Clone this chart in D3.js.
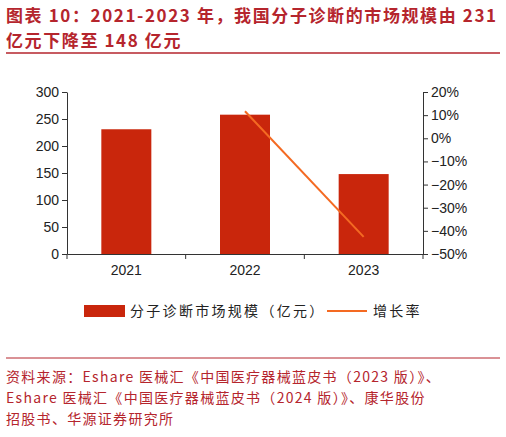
<!DOCTYPE html>
<html><head><meta charset="utf-8">
<script src="https://cdn.jsdelivr.net/npm/d3@7"></script>
<style>body{margin:0;background:#fff;font-family:"Noto Sans CJK SC",sans-serif}</style>
</head><body><svg id="c" width="506" height="437"></svg>
<script>
const years=["2021","2022","2023"];
const market=[231,258,148];
const growthYears=["2022","2023"];
const growth=[11.7,-42.6];
const leftTicks=[0,50,100,150,200,250,300];
const rightTicks=[-50,-40,-30,-20,-10,0,10,20];
const svg=d3.select("#c");
const red="#b5252d";
svg.append("text").attr("x",6).attr("y",22).attr("fill",red).attr("font-size",17).attr("font-weight","bold").attr("letter-spacing",1.6).text("图表 10：2021-2023 年，我国分子诊断的市场规模由 231");
svg.append("text").attr("x",6).attr("y",47).attr("fill",red).attr("font-size",17).attr("font-weight","bold").attr("letter-spacing",1.6).text("亿元下降至 148 亿元");
svg.append("line").attr("x1",6).attr("x2",500).attr("y1",53).attr("y2",53).attr("stroke",red).attr("stroke-width",1.5);
const x=d3.scaleBand().domain(years).range([67,423]);
const y=d3.scaleLinear().domain([0,300]).range([254,92]);
const y2=d3.scaleLinear().domain([-50,20]).range([254,92]);
const g=svg.append("g");
g.selectAll("rect").data(market).join("rect").attr("x",(d,i)=>x(years[i])+x.bandwidth()/2-25).attr("width",50).attr("y",d=>y(d)).attr("height",d=>254-y(d)).attr("fill","#c9260c");
const line=d3.line().x((d,i)=>x(growthYears[i])+x.bandwidth()/2).y(d=>y2(d));
g.append("path").datum(growth).attr("d",line).attr("fill","none").attr("stroke","#f46a22").attr("stroke-width",2);
const fs="Liberation Sans, Arial, sans-serif";
const la=svg.append("g").attr("transform","translate(67,0)").call(d3.axisLeft(y).tickValues(leftTicks).tickSize(5).tickSizeOuter(0));
const ra=svg.append("g").attr("transform","translate(423,0)").call(d3.axisRight(y2).tickValues(rightTicks).tickSize(5).tickSizeOuter(0).tickFormat(d=>d===0?"0%":(d<0?"−":"")+Math.abs(d)+"%"));
const ba=svg.append("g").attr("transform","translate(0,254)").call(d3.axisBottom(x).tickSize(0));
ba.selectAll("text").attr("dy","1.3em");
svg.append("g").selectAll("line").data([67,x("2022"),x("2023"),423]).join("line").attr("x1",d=>d).attr("x2",d=>d).attr("y1",254).attr("y2",259).attr("stroke","#333");
[la,ra,ba].forEach(a=>{a.selectAll("text").attr("font-size",14).attr("font-family",fs).attr("fill","#222");a.selectAll("path,line").attr("stroke","#333");});
const lg=svg.append("g");
lg.append("rect").attr("x",84).attr("y",305).attr("width",41).attr("height",12).attr("fill","#c9260c");
lg.append("text").attr("x",130).attr("y",316).attr("font-size",14).attr("fill","#222").attr("letter-spacing",2.3).text("分子诊断市场规模（亿元）");
lg.append("line").attr("x1",327).attr("x2",367).attr("y1",311).attr("y2",311).attr("stroke","#f46a22").attr("stroke-width",2);
lg.append("text").attr("x",373).attr("y",316).attr("font-size",14).attr("fill","#222").attr("letter-spacing",2.3).text("增长率");
svg.append("line").attr("x1",6).attr("x2",500).attr("y1",358).attr("y2",358).attr("stroke",red).attr("stroke-width",1);
const src=["资料来源：Eshare 医械汇《中国医疗器械蓝皮书（2023 版）》、","Eshare 医械汇《中国医疗器械蓝皮书（2024 版）》、康华股份","招股书、华源证券研究所"];
svg.append("g").selectAll("text").data(src).join("text").attr("x",6).attr("y",(d,i)=>382+i*21).attr("font-size",14).attr("fill",red).attr("letter-spacing",1.3).text(d=>d);
</script></body></html>
